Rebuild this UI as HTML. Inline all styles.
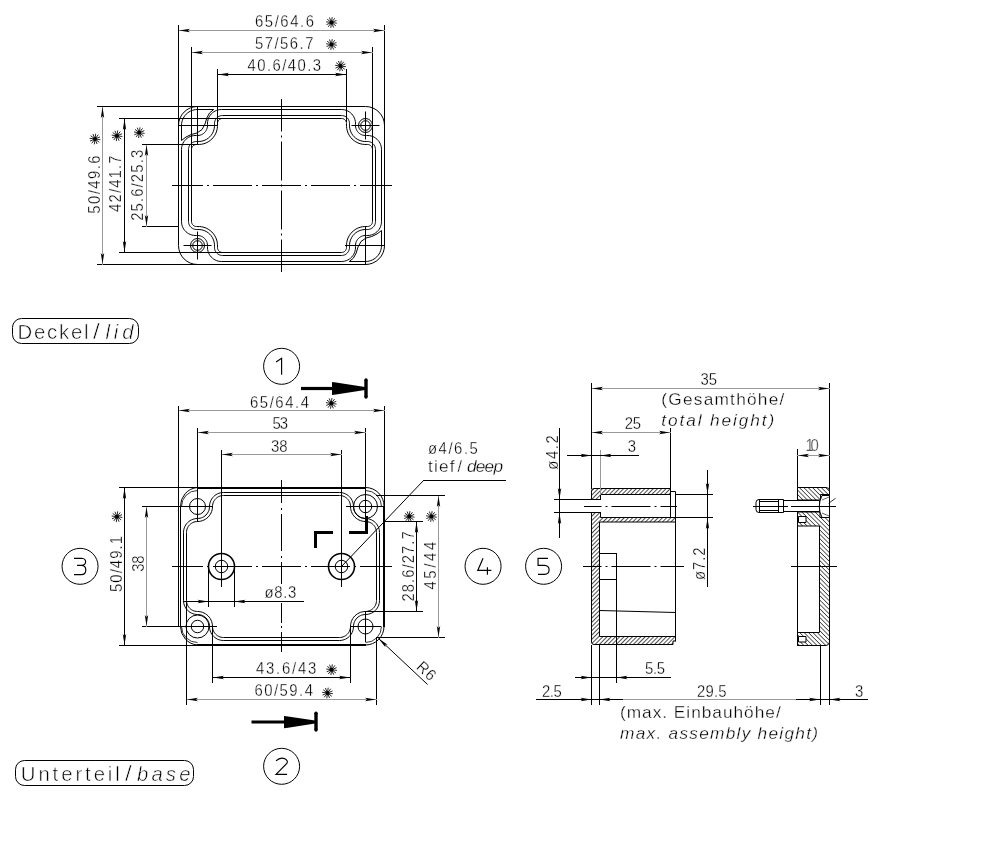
<!DOCTYPE html>
<html><head><meta charset="utf-8"><style>
html,body{margin:0;padding:0;background:#fff;}
svg{display:block;will-change:transform;font-family:"Liberation Sans",sans-serif;}
</style></head><body>
<svg width="984" height="868" viewBox="0 0 984 868">
<rect width="984" height="868" fill="#fff"/>
<path d="M197.5,106.5 H365.5 A19,19 0 0 1 384.5,125.5 V245.5 A19,19 0 0 1 365.5,264.5 H197.5 A19,19 0 0 1 178.5,245.5 V125.5 A19,19 0 0 1 197.5,106.5 Z" fill="none" stroke="#000" stroke-width="1"/>
<path d="M341.5,109.5 L343.15,109.6 L344.78,109.89 L346.36,110.37 L347.87,111.03 L349.3,111.87 L350.61,112.87 L351.8,114.02 L352.85,115.3 L353.74,116.7 L354.45,118.18 L354.99,119.75 L355.34,121.36 L355.49,123.01 L355.45,124.66 L355.51,125.91 L355.64,127.14 L355.91,128.35 L356.34,129.52 L356.91,130.62 L357.61,131.64 L358.43,132.57 L359.36,133.39 L360.38,134.09 L361.48,134.66 L362.65,135.09 L363.86,135.36 L365.09,135.49 L366.33,135.47 L367.99,135.51 L369.64,135.66 L371.25,136.01 L372.82,136.55 L374.3,137.26 L375.7,138.15 L376.98,139.2 L378.13,140.39 L379.13,141.7 L379.97,143.13 L380.63,144.64 L381.11,146.22 L381.4,147.85 L381.5,149.5 L381.5,221.5 L381.4,223.15 L381.11,224.78 L380.63,226.36 L379.97,227.87 L379.13,229.3 L378.13,230.61 L376.98,231.8 L375.7,232.85 L374.3,233.74 L372.82,234.45 L371.25,234.99 L369.64,235.34 L367.99,235.49 L366.33,235.53 L365.09,235.51 L363.86,235.64 L362.65,235.91 L361.48,236.34 L360.38,236.91 L359.36,237.61 L358.43,238.43 L357.61,239.36 L356.91,240.38 L356.34,241.48 L355.91,242.65 L355.64,243.86 L355.51,245.09 L355.45,246.34 L355.49,247.99 L355.34,249.64 L354.99,251.25 L354.45,252.82 L353.74,254.3 L352.85,255.7 L351.8,256.98 L350.61,258.13 L349.3,259.13 L347.87,259.97 L346.36,260.63 L344.78,261.11 L343.15,261.4 L341.5,261.5 L221.5,261.5 L219.85,261.4 L218.22,261.11 L216.64,260.63 L215.13,259.97 L213.7,259.13 L212.39,258.13 L211.2,256.98 L210.15,255.7 L209.26,254.3 L208.55,252.82 L208.01,251.25 L207.66,249.64 L207.51,247.99 L207.55,246.34 L207.49,245.09 L207.36,243.86 L207.09,242.65 L206.66,241.48 L206.09,240.38 L205.39,239.36 L204.57,238.43 L203.64,237.61 L202.62,236.91 L201.52,236.34 L200.35,235.91 L199.14,235.64 L197.91,235.51 L196.67,235.53 L195.01,235.49 L193.36,235.34 L191.75,234.99 L190.18,234.45 L188.7,233.74 L187.3,232.85 L186.02,231.8 L184.87,230.61 L183.87,229.3 L183.03,227.87 L182.37,226.36 L181.89,224.78 L181.6,223.15 L181.5,221.5 L181.5,149.5 L181.6,147.85 L181.89,146.22 L182.37,144.64 L183.03,143.13 L183.87,141.7 L184.87,140.39 L186.02,139.2 L187.3,138.15 L188.7,137.26 L190.18,136.55 L191.75,136.01 L193.36,135.66 L195.01,135.51 L196.67,135.47 L197.91,135.49 L199.14,135.36 L200.35,135.09 L201.52,134.66 L202.62,134.09 L203.64,133.39 L204.57,132.57 L205.39,131.64 L206.09,130.62 L206.66,129.52 L207.09,128.35 L207.36,127.14 L207.49,125.91 L207.55,124.66 L207.51,123.01 L207.66,121.36 L208.01,119.75 L208.55,118.18 L209.26,116.7 L210.15,115.3 L211.2,114.02 L212.39,112.87 L213.7,111.87 L215.13,111.03 L216.64,110.37 L218.22,109.89 L219.85,109.6 L221.5,109.5 Z" fill="none" stroke="#000" stroke-width="1"/>
<path d="M341.5,115.5 L342.44,115.56 L343.37,115.72 L344.28,116 L345.14,116.38 L345.96,116.86 L346.71,117.43 L347.39,118.08 L347.98,118.81 L348.49,119.61 L348.9,120.46 L349.21,121.36 L349.41,122.28 L349.5,123.22 L349.47,124.16 L349.51,126.15 L349.72,128.13 L350.16,130.06 L350.85,131.92 L351.75,133.69 L352.87,135.33 L354.19,136.81 L355.67,138.13 L357.31,139.25 L359.08,140.15 L360.94,140.84 L362.87,141.28 L364.85,141.49 L366.83,141.44 L367.78,141.5 L368.72,141.59 L369.64,141.79 L370.54,142.1 L371.39,142.51 L372.19,143.02 L372.92,143.61 L373.57,144.29 L374.14,145.04 L374.62,145.86 L375,146.72 L375.28,147.63 L375.44,148.56 L375.5,149.5 L375.5,221.5 L375.44,222.44 L375.28,223.37 L375,224.28 L374.62,225.14 L374.14,225.96 L373.57,226.71 L372.92,227.39 L372.19,227.98 L371.39,228.49 L370.54,228.9 L369.64,229.21 L368.72,229.41 L367.78,229.5 L366.83,229.56 L364.85,229.51 L362.87,229.72 L360.94,230.16 L359.08,230.85 L357.31,231.75 L355.67,232.87 L354.19,234.19 L352.87,235.67 L351.75,237.31 L350.85,239.08 L350.16,240.94 L349.72,242.87 L349.51,244.85 L349.47,246.84 L349.5,247.78 L349.41,248.72 L349.21,249.64 L348.9,250.54 L348.49,251.39 L347.98,252.19 L347.39,252.92 L346.71,253.57 L345.96,254.14 L345.14,254.62 L344.28,255 L343.37,255.28 L342.44,255.44 L341.5,255.5 L222.5,255.5 L221.56,255.44 L220.63,255.28 L219.72,255 L218.86,254.62 L218.04,254.14 L217.29,253.57 L216.61,252.92 L216.02,252.19 L215.51,251.39 L215.1,250.54 L214.79,249.64 L214.59,248.72 L214.5,247.78 L214.53,246.84 L214.49,244.85 L214.28,242.87 L213.84,240.94 L213.15,239.08 L212.25,237.31 L211.13,235.67 L209.81,234.19 L208.33,232.87 L206.69,231.75 L204.92,230.85 L203.06,230.16 L201.13,229.72 L199.15,229.51 L197.17,229.56 L196.22,229.5 L195.28,229.41 L194.36,229.21 L193.46,228.9 L192.61,228.49 L191.81,227.98 L191.08,227.39 L190.43,226.71 L189.86,225.96 L189.38,225.14 L189,224.28 L188.72,223.37 L188.56,222.44 L188.5,221.5 L188.5,149.5 L188.56,148.56 L188.72,147.63 L189,146.72 L189.38,145.86 L189.86,145.04 L190.43,144.29 L191.08,143.61 L191.81,143.02 L192.61,142.51 L193.46,142.1 L194.36,141.79 L195.28,141.59 L196.22,141.5 L197.17,141.44 L199.15,141.49 L201.13,141.28 L203.06,140.84 L204.92,140.15 L206.69,139.25 L208.33,138.13 L209.81,136.81 L211.13,135.33 L212.25,133.69 L213.15,131.92 L213.84,130.06 L214.28,128.13 L214.49,126.15 L214.53,124.16 L214.5,123.22 L214.59,122.28 L214.79,121.36 L215.1,120.46 L215.51,119.61 L216.02,118.81 L216.61,118.08 L217.29,117.43 L218.04,116.86 L218.86,116.38 L219.72,116 L220.63,115.72 L221.56,115.56 L222.5,115.5 Z" fill="none" stroke="#000" stroke-width="1"/>
<path d="M341.5,118.5 L342.09,118.53 L342.67,118.64 L343.24,118.81 L343.78,119.05 L344.28,119.35 L344.75,119.7 L345.18,120.11 L345.55,120.57 L345.87,121.07 L346.13,121.6 L346.32,122.16 L346.44,122.74 L346.5,123.33 L346.48,123.92 L346.52,126.28 L346.76,128.62 L347.29,130.92 L348.1,133.13 L349.18,135.22 L350.51,137.17 L352.06,138.94 L353.83,140.49 L355.78,141.82 L357.87,142.9 L360.08,143.71 L362.38,144.24 L364.72,144.48 L367.08,144.43 L367.67,144.5 L368.26,144.56 L368.84,144.68 L369.4,144.87 L369.93,145.13 L370.43,145.45 L370.89,145.82 L371.3,146.25 L371.65,146.72 L371.95,147.22 L372.19,147.76 L372.36,148.33 L372.47,148.91 L372.5,149.5 L372.5,221.5 L372.47,222.09 L372.36,222.67 L372.19,223.24 L371.95,223.78 L371.65,224.28 L371.3,224.75 L370.89,225.18 L370.43,225.55 L369.93,225.87 L369.4,226.13 L368.84,226.32 L368.26,226.44 L367.67,226.5 L367.08,226.57 L364.72,226.52 L362.38,226.76 L360.08,227.29 L357.87,228.1 L355.78,229.18 L353.83,230.51 L352.06,232.06 L350.51,233.83 L349.18,235.78 L348.1,237.87 L347.29,240.08 L346.76,242.38 L346.52,244.72 L346.48,247.08 L346.5,247.67 L346.44,248.26 L346.32,248.84 L346.13,249.4 L345.87,249.93 L345.55,250.43 L345.18,250.89 L344.75,251.3 L344.28,251.65 L343.78,251.95 L343.24,252.19 L342.67,252.36 L342.09,252.47 L341.5,252.5 L222.5,252.5 L221.91,252.47 L221.33,252.36 L220.76,252.19 L220.22,251.95 L219.72,251.65 L219.25,251.3 L218.82,250.89 L218.45,250.43 L218.13,249.93 L217.87,249.4 L217.68,248.84 L217.56,248.26 L217.5,247.67 L217.52,247.08 L217.48,244.72 L217.24,242.38 L216.71,240.08 L215.9,237.87 L214.82,235.78 L213.49,233.83 L211.94,232.06 L210.17,230.51 L208.22,229.18 L206.13,228.1 L203.92,227.29 L201.62,226.76 L199.28,226.52 L196.92,226.57 L196.33,226.5 L195.74,226.44 L195.16,226.32 L194.6,226.13 L194.07,225.87 L193.57,225.55 L193.11,225.18 L192.7,224.75 L192.35,224.28 L192.05,223.78 L191.81,223.24 L191.64,222.67 L191.53,222.09 L191.5,221.5 L191.5,149.5 L191.53,148.91 L191.64,148.33 L191.81,147.76 L192.05,147.22 L192.35,146.72 L192.7,146.25 L193.11,145.82 L193.57,145.45 L194.07,145.13 L194.6,144.87 L195.16,144.68 L195.74,144.56 L196.33,144.5 L196.92,144.43 L199.28,144.48 L201.62,144.24 L203.92,143.71 L206.13,142.9 L208.22,141.82 L210.17,140.49 L211.94,138.94 L213.49,137.17 L214.82,135.22 L215.9,133.13 L216.71,130.92 L217.24,128.62 L217.48,126.28 L217.52,123.92 L217.5,123.33 L217.56,122.74 L217.68,122.16 L217.87,121.6 L218.13,121.07 L218.45,120.57 L218.82,120.11 L219.25,119.7 L219.72,119.35 L220.22,119.05 L220.76,118.81 L221.33,118.64 L221.91,118.53 L222.5,118.5 Z" fill="none" stroke="#000" stroke-width="1"/>
<path d="M181.5,125.5 L181.6,123.71 L181.9,121.94 L182.4,120.22 L183.08,118.56 L183.95,116.99 L184.99,115.52 L186.19,114.19 L187.52,112.99 L188.99,111.95 L190.56,111.08 L192.22,110.4 L193.94,109.9 L195.71,109.6 L197.5,109.5 L213.7,109.5" fill="none" stroke="#000" stroke-width="1"/>
<path d="M213.7,109.5 L209.5,113 L206.8,118 L205,124 L202,129.5 L197,133 L191.3,134.5 L186,137 L181.5,140.5 L181.5,125.5" fill="none" stroke="#000" stroke-width="1"/>
<path d="M381.5,245.5 L381.4,247.29 L381.1,249.06 L380.6,250.78 L379.92,252.44 L379.05,254.01 L378.01,255.48 L376.81,256.81 L375.48,258.01 L374.01,259.05 L372.44,259.92 L370.78,260.6 L369.06,261.1 L367.29,261.4 L365.5,261.5 L349.3,261.5" fill="none" stroke="#000" stroke-width="1"/>
<path d="M349.3,261.5 L353.5,258 L356.2,253 L358,247 L361,241.5 L366,238 L371.7,236.5 L377,234 L381.5,230.5 L381.5,245.5" fill="none" stroke="#000" stroke-width="1"/>
<line x1="197.5" y1="106" x2="197.5" y2="145" stroke="#000" stroke-width="1"/>
<line x1="178" y1="125.5" x2="218" y2="125.5" stroke="#000" stroke-width="1"/>
<line x1="365.5" y1="226" x2="365.5" y2="265" stroke="#000" stroke-width="1"/>
<line x1="345" y1="245.5" x2="385" y2="245.5" stroke="#000" stroke-width="1"/>
<circle cx="365.5" cy="125.5" r="7" fill="none" stroke="#000" stroke-width="1"/>
<circle cx="365.5" cy="125.5" r="4.8" fill="none" stroke="#000" stroke-width="1"/>
<line x1="351.5" y1="125.5" x2="379.5" y2="125.5" stroke="#000" stroke-width="1"/>
<line x1="365.5" y1="111.5" x2="365.5" y2="139.5" stroke="#000" stroke-width="1"/>
<circle cx="197.5" cy="245.5" r="7" fill="none" stroke="#000" stroke-width="1"/>
<circle cx="197.5" cy="245.5" r="4.8" fill="none" stroke="#000" stroke-width="1"/>
<line x1="183.5" y1="245.5" x2="211.5" y2="245.5" stroke="#000" stroke-width="1"/>
<line x1="197.5" y1="231.5" x2="197.5" y2="259.5" stroke="#000" stroke-width="1"/>
<line x1="178.5" y1="25" x2="178.5" y2="126" stroke="#000" stroke-width="1"/>
<line x1="384.5" y1="25" x2="384.5" y2="126" stroke="#000" stroke-width="1"/>
<line x1="191.5" y1="47" x2="191.5" y2="221" stroke="#000" stroke-width="1"/>
<line x1="372.5" y1="47" x2="372.5" y2="221" stroke="#000" stroke-width="1"/>
<line x1="217.5" y1="69" x2="217.5" y2="126" stroke="#000" stroke-width="1"/>
<line x1="346.5" y1="69" x2="346.5" y2="122" stroke="#000" stroke-width="1"/>
<line x1="97" y1="106.5" x2="198" y2="106.5" stroke="#000" stroke-width="1"/>
<line x1="119" y1="118.5" x2="341" y2="118.5" stroke="#000" stroke-width="1"/>
<line x1="142" y1="144.5" x2="198" y2="144.5" stroke="#000" stroke-width="1"/>
<line x1="142" y1="226.5" x2="179" y2="226.5" stroke="#000" stroke-width="1"/>
<line x1="119" y1="252.5" x2="341" y2="252.5" stroke="#000" stroke-width="1"/>
<line x1="97" y1="264.5" x2="198" y2="264.5" stroke="#000" stroke-width="1"/>
<line x1="179" y1="30.5" x2="385" y2="30.5" stroke="#9a9a9a" stroke-width="1"/>
<polygon points="179,30.5 190,28.8 187.8,30.5 190,32.2" fill="#000"/>
<polygon points="384,30.5 373,32.2 375.2,30.5 373,28.8" fill="#000"/>
<line x1="192" y1="52.5" x2="373" y2="52.5" stroke="#9a9a9a" stroke-width="1"/>
<polygon points="192,52.5 203,50.8 200.8,52.5 203,54.2" fill="#000"/>
<polygon points="372,52.5 361,54.2 363.2,52.5 361,50.8" fill="#000"/>
<line x1="218" y1="74.5" x2="347" y2="74.5" stroke="#000" stroke-width="1"/>
<polygon points="218,74.5 229,72.8 226.8,74.5 229,76.2" fill="#000"/>
<polygon points="346,74.5 335,76.2 337.2,74.5 335,72.8" fill="#000"/>
<line x1="102.5" y1="107" x2="102.5" y2="265" stroke="#9a9a9a" stroke-width="1"/>
<polygon points="102.5,107 104.2,118 102.5,115.8 100.8,118" fill="#000"/>
<polygon points="102.5,264 100.8,253 102.5,255.2 104.2,253" fill="#000"/>
<line x1="124.5" y1="119" x2="124.5" y2="253" stroke="#000" stroke-width="1"/>
<polygon points="124.5,119 126.2,130 124.5,127.8 122.8,130" fill="#000"/>
<polygon points="124.5,252 122.8,241 124.5,243.2 126.2,241" fill="#000"/>
<line x1="146.5" y1="145" x2="146.5" y2="227" stroke="#9a9a9a" stroke-width="1"/>
<polygon points="146.5,145 148.2,156 146.5,153.8 144.8,156" fill="#000"/>
<polygon points="146.5,226 144.8,215 146.5,217.2 148.2,215" fill="#000"/>
<text transform="translate(255 27) scale(0.93 1)" x="0" y="0" font-size="16" textLength="63.44" lengthAdjust="spacing" stroke="#fff" stroke-width="0.3" fill="#000">65/64.6</text>
<text transform="translate(255 49) scale(0.93 1)" x="0" y="0" font-size="16" textLength="62.9" lengthAdjust="spacing" stroke="#fff" stroke-width="0.3" fill="#000">57/56.7</text>
<text transform="translate(247.5 71) scale(0.93 1)" x="0" y="0" font-size="16" textLength="79.03" lengthAdjust="spacing" stroke="#fff" stroke-width="0.3" fill="#000">40.6/40.3</text>
<line x1="331.5" y1="22.5" x2="336.85" y2="23.2" stroke="#000" stroke-width="0.85"/>
<line x1="331.5" y1="22.5" x2="335.79" y2="25.78" stroke="#000" stroke-width="0.85"/>
<line x1="331.5" y1="22.5" x2="333.57" y2="27.49" stroke="#000" stroke-width="0.85"/>
<line x1="331.5" y1="22.5" x2="330.8" y2="27.85" stroke="#000" stroke-width="0.85"/>
<line x1="331.5" y1="22.5" x2="328.22" y2="26.79" stroke="#000" stroke-width="0.85"/>
<line x1="331.5" y1="22.5" x2="326.51" y2="24.57" stroke="#000" stroke-width="0.85"/>
<line x1="331.5" y1="22.5" x2="326.15" y2="21.8" stroke="#000" stroke-width="0.85"/>
<line x1="331.5" y1="22.5" x2="327.21" y2="19.22" stroke="#000" stroke-width="0.85"/>
<line x1="331.5" y1="22.5" x2="329.43" y2="17.51" stroke="#000" stroke-width="0.85"/>
<line x1="331.5" y1="22.5" x2="332.2" y2="17.15" stroke="#000" stroke-width="0.85"/>
<line x1="331.5" y1="22.5" x2="334.78" y2="18.21" stroke="#000" stroke-width="0.85"/>
<line x1="331.5" y1="22.5" x2="336.49" y2="20.43" stroke="#000" stroke-width="0.85"/>
<circle cx="331.5" cy="22.5" r="1.9" fill="#000" stroke="#000" stroke-width="0"/>
<line x1="331.5" y1="44.5" x2="336.85" y2="45.2" stroke="#000" stroke-width="0.85"/>
<line x1="331.5" y1="44.5" x2="335.79" y2="47.78" stroke="#000" stroke-width="0.85"/>
<line x1="331.5" y1="44.5" x2="333.57" y2="49.49" stroke="#000" stroke-width="0.85"/>
<line x1="331.5" y1="44.5" x2="330.8" y2="49.85" stroke="#000" stroke-width="0.85"/>
<line x1="331.5" y1="44.5" x2="328.22" y2="48.79" stroke="#000" stroke-width="0.85"/>
<line x1="331.5" y1="44.5" x2="326.51" y2="46.57" stroke="#000" stroke-width="0.85"/>
<line x1="331.5" y1="44.5" x2="326.15" y2="43.8" stroke="#000" stroke-width="0.85"/>
<line x1="331.5" y1="44.5" x2="327.21" y2="41.22" stroke="#000" stroke-width="0.85"/>
<line x1="331.5" y1="44.5" x2="329.43" y2="39.51" stroke="#000" stroke-width="0.85"/>
<line x1="331.5" y1="44.5" x2="332.2" y2="39.15" stroke="#000" stroke-width="0.85"/>
<line x1="331.5" y1="44.5" x2="334.78" y2="40.21" stroke="#000" stroke-width="0.85"/>
<line x1="331.5" y1="44.5" x2="336.49" y2="42.43" stroke="#000" stroke-width="0.85"/>
<circle cx="331.5" cy="44.5" r="1.9" fill="#000" stroke="#000" stroke-width="0"/>
<line x1="340.5" y1="66" x2="345.85" y2="66.7" stroke="#000" stroke-width="0.85"/>
<line x1="340.5" y1="66" x2="344.79" y2="69.28" stroke="#000" stroke-width="0.85"/>
<line x1="340.5" y1="66" x2="342.57" y2="70.99" stroke="#000" stroke-width="0.85"/>
<line x1="340.5" y1="66" x2="339.8" y2="71.35" stroke="#000" stroke-width="0.85"/>
<line x1="340.5" y1="66" x2="337.22" y2="70.29" stroke="#000" stroke-width="0.85"/>
<line x1="340.5" y1="66" x2="335.51" y2="68.07" stroke="#000" stroke-width="0.85"/>
<line x1="340.5" y1="66" x2="335.15" y2="65.3" stroke="#000" stroke-width="0.85"/>
<line x1="340.5" y1="66" x2="336.21" y2="62.72" stroke="#000" stroke-width="0.85"/>
<line x1="340.5" y1="66" x2="338.43" y2="61.01" stroke="#000" stroke-width="0.85"/>
<line x1="340.5" y1="66" x2="341.2" y2="60.65" stroke="#000" stroke-width="0.85"/>
<line x1="340.5" y1="66" x2="343.78" y2="61.71" stroke="#000" stroke-width="0.85"/>
<line x1="340.5" y1="66" x2="345.49" y2="63.93" stroke="#000" stroke-width="0.85"/>
<circle cx="340.5" cy="66" r="1.9" fill="#000" stroke="#000" stroke-width="0"/>
<text transform="translate(99.6 213.8) rotate(-90) scale(0.93 1)" x="0" y="0" font-size="16" textLength="62.69" lengthAdjust="spacing" stroke="#fff" stroke-width="0.3" fill="#000">50/49.6</text>
<text transform="translate(121.2 211.9) rotate(-90) scale(0.93 1)" x="0" y="0" font-size="16" textLength="60.65" lengthAdjust="spacing" stroke="#fff" stroke-width="0.3" fill="#000">42/41.7</text>
<text transform="translate(143.4 220.8) rotate(-90) scale(0.93 1)" x="0" y="0" font-size="16" textLength="76.34" lengthAdjust="spacing" stroke="#fff" stroke-width="0.3" fill="#000">25.6/25.3</text>
<line x1="95" y1="139" x2="100.35" y2="139.7" stroke="#000" stroke-width="0.85"/>
<line x1="95" y1="139" x2="99.29" y2="142.28" stroke="#000" stroke-width="0.85"/>
<line x1="95" y1="139" x2="97.07" y2="143.99" stroke="#000" stroke-width="0.85"/>
<line x1="95" y1="139" x2="94.3" y2="144.35" stroke="#000" stroke-width="0.85"/>
<line x1="95" y1="139" x2="91.72" y2="143.29" stroke="#000" stroke-width="0.85"/>
<line x1="95" y1="139" x2="90.01" y2="141.07" stroke="#000" stroke-width="0.85"/>
<line x1="95" y1="139" x2="89.65" y2="138.3" stroke="#000" stroke-width="0.85"/>
<line x1="95" y1="139" x2="90.71" y2="135.72" stroke="#000" stroke-width="0.85"/>
<line x1="95" y1="139" x2="92.93" y2="134.01" stroke="#000" stroke-width="0.85"/>
<line x1="95" y1="139" x2="95.7" y2="133.65" stroke="#000" stroke-width="0.85"/>
<line x1="95" y1="139" x2="98.28" y2="134.71" stroke="#000" stroke-width="0.85"/>
<line x1="95" y1="139" x2="99.99" y2="136.93" stroke="#000" stroke-width="0.85"/>
<circle cx="95" cy="139" r="1.9" fill="#000" stroke="#000" stroke-width="0"/>
<line x1="117" y1="135.8" x2="122.35" y2="136.5" stroke="#000" stroke-width="0.85"/>
<line x1="117" y1="135.8" x2="121.29" y2="139.08" stroke="#000" stroke-width="0.85"/>
<line x1="117" y1="135.8" x2="119.07" y2="140.79" stroke="#000" stroke-width="0.85"/>
<line x1="117" y1="135.8" x2="116.3" y2="141.15" stroke="#000" stroke-width="0.85"/>
<line x1="117" y1="135.8" x2="113.72" y2="140.09" stroke="#000" stroke-width="0.85"/>
<line x1="117" y1="135.8" x2="112.01" y2="137.87" stroke="#000" stroke-width="0.85"/>
<line x1="117" y1="135.8" x2="111.65" y2="135.1" stroke="#000" stroke-width="0.85"/>
<line x1="117" y1="135.8" x2="112.71" y2="132.52" stroke="#000" stroke-width="0.85"/>
<line x1="117" y1="135.8" x2="114.93" y2="130.81" stroke="#000" stroke-width="0.85"/>
<line x1="117" y1="135.8" x2="117.7" y2="130.45" stroke="#000" stroke-width="0.85"/>
<line x1="117" y1="135.8" x2="120.28" y2="131.51" stroke="#000" stroke-width="0.85"/>
<line x1="117" y1="135.8" x2="121.99" y2="133.73" stroke="#000" stroke-width="0.85"/>
<circle cx="117" cy="135.8" r="1.9" fill="#000" stroke="#000" stroke-width="0"/>
<line x1="139.3" y1="132.7" x2="144.65" y2="133.4" stroke="#000" stroke-width="0.85"/>
<line x1="139.3" y1="132.7" x2="143.59" y2="135.98" stroke="#000" stroke-width="0.85"/>
<line x1="139.3" y1="132.7" x2="141.37" y2="137.69" stroke="#000" stroke-width="0.85"/>
<line x1="139.3" y1="132.7" x2="138.6" y2="138.05" stroke="#000" stroke-width="0.85"/>
<line x1="139.3" y1="132.7" x2="136.02" y2="136.99" stroke="#000" stroke-width="0.85"/>
<line x1="139.3" y1="132.7" x2="134.31" y2="134.77" stroke="#000" stroke-width="0.85"/>
<line x1="139.3" y1="132.7" x2="133.95" y2="132" stroke="#000" stroke-width="0.85"/>
<line x1="139.3" y1="132.7" x2="135.01" y2="129.42" stroke="#000" stroke-width="0.85"/>
<line x1="139.3" y1="132.7" x2="137.23" y2="127.71" stroke="#000" stroke-width="0.85"/>
<line x1="139.3" y1="132.7" x2="140" y2="127.35" stroke="#000" stroke-width="0.85"/>
<line x1="139.3" y1="132.7" x2="142.58" y2="128.41" stroke="#000" stroke-width="0.85"/>
<line x1="139.3" y1="132.7" x2="144.29" y2="130.63" stroke="#000" stroke-width="0.85"/>
<circle cx="139.3" cy="132.7" r="1.9" fill="#000" stroke="#000" stroke-width="0"/>
<line x1="281.5" y1="99" x2="281.5" y2="131.5" stroke="#000" stroke-width="1"/>
<line x1="281.5" y1="135.5" x2="281.5" y2="137.5" stroke="#000" stroke-width="1"/>
<line x1="281.5" y1="141.5" x2="281.5" y2="180.5" stroke="#000" stroke-width="1"/>
<line x1="281.5" y1="184.5" x2="281.5" y2="186.5" stroke="#000" stroke-width="1"/>
<line x1="281.5" y1="190.5" x2="281.5" y2="229.5" stroke="#000" stroke-width="1"/>
<line x1="281.5" y1="233.5" x2="281.5" y2="235.5" stroke="#000" stroke-width="1"/>
<line x1="281.5" y1="239.5" x2="281.5" y2="272" stroke="#000" stroke-width="1"/>
<line x1="172" y1="185.5" x2="203" y2="185.5" stroke="#000" stroke-width="1"/>
<line x1="207" y1="185.5" x2="209" y2="185.5" stroke="#000" stroke-width="1"/>
<line x1="213" y1="185.5" x2="252" y2="185.5" stroke="#000" stroke-width="1"/>
<line x1="256" y1="185.5" x2="258" y2="185.5" stroke="#000" stroke-width="1"/>
<line x1="262" y1="185.5" x2="301" y2="185.5" stroke="#000" stroke-width="1"/>
<line x1="305" y1="185.5" x2="307" y2="185.5" stroke="#000" stroke-width="1"/>
<line x1="311" y1="185.5" x2="350" y2="185.5" stroke="#000" stroke-width="1"/>
<line x1="354" y1="185.5" x2="356" y2="185.5" stroke="#000" stroke-width="1"/>
<line x1="360" y1="185.5" x2="392" y2="185.5" stroke="#000" stroke-width="1"/>
<path d="M197.5,487.5 H365.5 A18.5,18.5 0 0 1 384,506.5 V626.5 A18.5,18.5 0 0 1 365.5,645 H197.5 A18.5,18.5 0 0 1 180.5,626.5 V506.5 A18.5,18.5 0 0 1 197.5,487.5 Z" fill="none" stroke="#000" stroke-width="1"/>
<line x1="197" y1="488" x2="366" y2="488" stroke="#000" stroke-width="2"/>
<line x1="384" y1="506" x2="384" y2="627" stroke="#000" stroke-width="2"/>
<line x1="197" y1="645" x2="366" y2="645" stroke="#000" stroke-width="2"/>
<path d="M197.5,490.5 A16,16 0 0 0 181.5,506.5" fill="none" stroke="#000" stroke-width="0.8"/>
<path d="M365.5,490.5 A16,16 0 0 1 381.5,506.5" fill="none" stroke="#000" stroke-width="0.8"/>
<path d="M381.5,626.5 A16,16 0 0 1 365.5,642.5" fill="none" stroke="#000" stroke-width="0.8"/>
<path d="M181.5,626.5 A16,16 0 0 0 197.5,642.5" fill="none" stroke="#000" stroke-width="0.8"/>
<path d="M339.5,492.5 L341.07,492.59 L342.62,492.85 L344.12,493.29 L345.57,493.89 L346.95,494.65 L348.23,495.55 L349.4,496.6 L350.45,497.77 L351.35,499.05 L352.11,500.43 L352.71,501.88 L353.15,503.38 L353.41,504.93 L353.5,506.5 L353.58,507.84 L353.8,509.17 L354.17,510.46 L354.69,511.71 L355.34,512.88 L356.12,513.98 L357.01,514.99 L358.02,515.88 L359.12,516.66 L360.29,517.31 L361.54,517.83 L362.83,518.2 L364.16,518.42 L365.5,518.5 L367.07,518.59 L368.62,518.85 L370.12,519.29 L371.57,519.89 L372.95,520.65 L374.23,521.55 L375.4,522.6 L376.45,523.77 L377.35,525.05 L378.11,526.43 L378.71,527.88 L379.15,529.38 L379.41,530.93 L379.5,532.5 L379.5,600.5 L379.41,602.07 L379.15,603.62 L378.71,605.12 L378.11,606.57 L377.35,607.95 L376.45,609.23 L375.4,610.4 L374.23,611.45 L372.95,612.35 L371.57,613.11 L370.12,613.71 L368.62,614.15 L367.07,614.41 L365.5,614.5 L364.16,614.58 L362.83,614.8 L361.54,615.17 L360.29,615.69 L359.12,616.34 L358.02,617.12 L357.01,618.01 L356.12,619.02 L355.34,620.12 L354.69,621.29 L354.17,622.54 L353.8,623.83 L353.58,625.16 L353.5,626.5 L353.41,628.07 L353.15,629.62 L352.71,631.12 L352.11,632.57 L351.35,633.95 L350.45,635.23 L349.4,636.4 L348.23,637.45 L346.95,638.35 L345.57,639.11 L344.12,639.71 L342.62,640.15 L341.07,640.41 L339.5,640.5 L223.5,640.5 L221.93,640.41 L220.38,640.15 L218.88,639.71 L217.43,639.11 L216.05,638.35 L214.77,637.45 L213.6,636.4 L212.55,635.23 L211.65,633.95 L210.89,632.57 L210.29,631.12 L209.85,629.62 L209.59,628.07 L209.5,626.5 L209.42,625.16 L209.2,623.83 L208.83,622.54 L208.31,621.29 L207.66,620.12 L206.88,619.02 L205.99,618.01 L204.98,617.12 L203.88,616.34 L202.71,615.69 L201.46,615.17 L200.17,614.8 L198.84,614.58 L197.5,614.5 L195.93,614.41 L194.38,614.15 L192.88,613.71 L191.43,613.11 L190.05,612.35 L188.77,611.45 L187.6,610.4 L186.55,609.23 L185.65,607.95 L184.89,606.57 L184.29,605.12 L183.85,603.62 L183.59,602.07 L183.5,600.5 L183.5,532.5 L183.59,530.93 L183.85,529.38 L184.29,527.88 L184.89,526.43 L185.65,525.05 L186.55,523.77 L187.6,522.6 L188.77,521.55 L190.05,520.65 L191.43,519.89 L192.88,519.29 L194.38,518.85 L195.93,518.59 L197.5,518.5 L198.84,518.42 L200.17,518.2 L201.46,517.83 L202.71,517.31 L203.88,516.66 L204.98,515.88 L205.99,514.99 L206.88,513.98 L207.66,512.88 L208.31,511.71 L208.83,510.46 L209.2,509.17 L209.42,507.84 L209.5,506.5 L209.59,504.93 L209.85,503.38 L210.29,501.88 L210.89,500.43 L211.65,499.05 L212.55,497.77 L213.6,496.6 L214.77,495.55 L216.05,494.65 L217.43,493.89 L218.88,493.29 L220.38,492.85 L221.93,492.59 L223.5,492.5 Z" fill="none" stroke="#000" stroke-width="1"/>
<path d="M339.5,495.5 L340.73,495.57 L341.95,495.78 L343.13,496.12 L344.27,496.59 L345.35,497.19 L346.36,497.9 L347.28,498.72 L348.1,499.64 L348.81,500.65 L349.41,501.73 L349.88,502.87 L350.22,504.05 L350.43,505.27 L350.5,506.5 L350.59,508.18 L350.88,509.84 L351.34,511.45 L351.99,513.01 L352.8,514.48 L353.77,515.85 L354.89,517.11 L356.15,518.23 L357.52,519.2 L358.99,520.01 L360.55,520.66 L362.16,521.12 L363.82,521.41 L365.5,521.5 L366.73,521.57 L367.95,521.78 L369.13,522.12 L370.27,522.59 L371.35,523.19 L372.36,523.9 L373.28,524.72 L374.1,525.64 L374.81,526.65 L375.41,527.73 L375.88,528.87 L376.22,530.05 L376.43,531.27 L376.5,532.5 L376.5,600.5 L376.43,601.73 L376.22,602.95 L375.88,604.13 L375.41,605.27 L374.81,606.35 L374.1,607.36 L373.28,608.28 L372.36,609.1 L371.35,609.81 L370.27,610.41 L369.13,610.88 L367.95,611.22 L366.73,611.43 L365.5,611.5 L363.82,611.59 L362.16,611.88 L360.55,612.34 L358.99,612.99 L357.52,613.8 L356.15,614.77 L354.89,615.89 L353.77,617.15 L352.8,618.52 L351.99,619.99 L351.34,621.55 L350.88,623.16 L350.59,624.82 L350.5,626.5 L350.43,627.73 L350.22,628.95 L349.88,630.13 L349.41,631.27 L348.81,632.35 L348.1,633.36 L347.28,634.28 L346.36,635.1 L345.35,635.81 L344.27,636.41 L343.13,636.88 L341.95,637.22 L340.73,637.43 L339.5,637.5 L223.5,637.5 L222.27,637.43 L221.05,637.22 L219.87,636.88 L218.73,636.41 L217.65,635.81 L216.64,635.1 L215.72,634.28 L214.9,633.36 L214.19,632.35 L213.59,631.27 L213.12,630.13 L212.78,628.95 L212.57,627.73 L212.5,626.5 L212.41,624.82 L212.12,623.16 L211.66,621.55 L211.01,619.99 L210.2,618.52 L209.23,617.15 L208.11,615.89 L206.85,614.77 L205.48,613.8 L204.01,612.99 L202.45,612.34 L200.84,611.88 L199.18,611.59 L197.5,611.5 L196.27,611.43 L195.05,611.22 L193.87,610.88 L192.73,610.41 L191.65,609.81 L190.64,609.1 L189.72,608.28 L188.9,607.36 L188.19,606.35 L187.59,605.27 L187.12,604.13 L186.78,602.95 L186.57,601.73 L186.5,600.5 L186.5,532.5 L186.57,531.27 L186.78,530.05 L187.12,528.87 L187.59,527.73 L188.19,526.65 L188.9,525.64 L189.72,524.72 L190.64,523.9 L191.65,523.19 L192.73,522.59 L193.87,522.12 L195.05,521.78 L196.27,521.57 L197.5,521.5 L199.18,521.41 L200.84,521.12 L202.45,520.66 L204.01,520.01 L205.48,519.2 L206.85,518.23 L208.11,517.11 L209.23,515.85 L210.2,514.48 L211.01,513.01 L211.66,511.45 L212.12,509.84 L212.41,508.18 L212.5,506.5 L212.57,505.27 L212.78,504.05 L213.12,502.87 L213.59,501.73 L214.19,500.65 L214.9,499.64 L215.72,498.72 L216.64,497.9 L217.65,497.19 L218.73,496.59 L219.87,496.12 L221.05,495.78 L222.27,495.57 L223.5,495.5 Z" fill="none" stroke="#000" stroke-width="1"/>
<circle cx="197.5" cy="506.5" r="8" fill="none" stroke="#000" stroke-width="1"/>
<circle cx="365.5" cy="626.5" r="7.5" fill="none" stroke="#000" stroke-width="1"/>
<circle cx="365.5" cy="506.5" r="12" fill="none" stroke="#000" stroke-width="1"/>
<circle cx="365.5" cy="506.5" r="6.25" fill="none" stroke="#000" stroke-width="1"/>
<circle cx="197.5" cy="626.5" r="11.5" fill="none" stroke="#000" stroke-width="1"/>
<circle cx="197.5" cy="626.5" r="6.25" fill="none" stroke="#000" stroke-width="1"/>
<circle cx="221.5" cy="566.5" r="13" fill="none" stroke="#000" stroke-width="1.6"/>
<circle cx="221.5" cy="566.5" r="6.25" fill="none" stroke="#000" stroke-width="1"/>
<circle cx="341.5" cy="566.5" r="13" fill="none" stroke="#000" stroke-width="1.6"/>
<circle cx="341.5" cy="566.5" r="6.25" fill="none" stroke="#000" stroke-width="1"/>
<line x1="208.5" y1="566" x2="208.5" y2="607" stroke="#000" stroke-width="1"/>
<line x1="234.5" y1="566" x2="234.5" y2="607" stroke="#000" stroke-width="1"/>
<line x1="178.5" y1="406" x2="178.5" y2="627" stroke="#000" stroke-width="1"/>
<line x1="384.5" y1="406" x2="384.5" y2="507" stroke="#000" stroke-width="1"/>
<line x1="197.5" y1="428" x2="197.5" y2="522" stroke="#000" stroke-width="1"/>
<line x1="365.5" y1="428" x2="365.5" y2="517" stroke="#000" stroke-width="1"/>
<line x1="221.5" y1="450" x2="221.5" y2="587" stroke="#000" stroke-width="1"/>
<line x1="341.5" y1="450" x2="341.5" y2="587" stroke="#000" stroke-width="1"/>
<line x1="119" y1="487.5" x2="198" y2="487.5" stroke="#000" stroke-width="1"/>
<line x1="119" y1="645.5" x2="198" y2="645.5" stroke="#000" stroke-width="1"/>
<line x1="142" y1="506.5" x2="213" y2="506.5" stroke="#000" stroke-width="1"/>
<line x1="142" y1="626.5" x2="217" y2="626.5" stroke="#000" stroke-width="1"/>
<line x1="346" y1="506.5" x2="384" y2="506.5" stroke="#000" stroke-width="1"/>
<line x1="350" y1="626.5" x2="381" y2="626.5" stroke="#000" stroke-width="1"/>
<line x1="365.5" y1="611" x2="365.5" y2="642" stroke="#000" stroke-width="1"/>
<line x1="376" y1="495.5" x2="445" y2="495.5" stroke="#000" stroke-width="1"/>
<line x1="376" y1="637.5" x2="445" y2="637.5" stroke="#000" stroke-width="1"/>
<line x1="384" y1="521.5" x2="423" y2="521.5" stroke="#000" stroke-width="1"/>
<line x1="365" y1="611.5" x2="423" y2="611.5" stroke="#000" stroke-width="1"/>
<line x1="212.5" y1="626" x2="212.5" y2="683" stroke="#000" stroke-width="1"/>
<line x1="350.5" y1="626" x2="350.5" y2="683" stroke="#000" stroke-width="1"/>
<line x1="186.5" y1="601" x2="186.5" y2="705" stroke="#000" stroke-width="1"/>
<line x1="376.5" y1="637" x2="376.5" y2="705" stroke="#000" stroke-width="1"/>
<line x1="179" y1="410.5" x2="385" y2="410.5" stroke="#9a9a9a" stroke-width="1"/>
<polygon points="179,410.5 190,408.8 187.8,410.5 190,412.2" fill="#000"/>
<polygon points="384,410.5 373,412.2 375.2,410.5 373,408.8" fill="#000"/>
<line x1="198" y1="432.5" x2="366" y2="432.5" stroke="#9a9a9a" stroke-width="1"/>
<polygon points="198,432.5 209,430.8 206.8,432.5 209,434.2" fill="#000"/>
<polygon points="365,432.5 354,434.2 356.2,432.5 354,430.8" fill="#000"/>
<line x1="222" y1="454.5" x2="342" y2="454.5" stroke="#9a9a9a" stroke-width="1"/>
<polygon points="222,454.5 233,452.8 230.8,454.5 233,456.2" fill="#000"/>
<polygon points="341,454.5 330,456.2 332.2,454.5 330,452.8" fill="#000"/>
<text transform="translate(250 407.5) scale(0.93 1)" x="0" y="0" font-size="16" textLength="63.44" lengthAdjust="spacing" stroke="#fff" stroke-width="0.3" fill="#000">65/64.4</text>
<line x1="331.25" y1="403.4" x2="336.6" y2="404.1" stroke="#000" stroke-width="0.85"/>
<line x1="331.25" y1="403.4" x2="335.54" y2="406.68" stroke="#000" stroke-width="0.85"/>
<line x1="331.25" y1="403.4" x2="333.32" y2="408.39" stroke="#000" stroke-width="0.85"/>
<line x1="331.25" y1="403.4" x2="330.55" y2="408.75" stroke="#000" stroke-width="0.85"/>
<line x1="331.25" y1="403.4" x2="327.97" y2="407.69" stroke="#000" stroke-width="0.85"/>
<line x1="331.25" y1="403.4" x2="326.26" y2="405.47" stroke="#000" stroke-width="0.85"/>
<line x1="331.25" y1="403.4" x2="325.9" y2="402.7" stroke="#000" stroke-width="0.85"/>
<line x1="331.25" y1="403.4" x2="326.96" y2="400.12" stroke="#000" stroke-width="0.85"/>
<line x1="331.25" y1="403.4" x2="329.18" y2="398.41" stroke="#000" stroke-width="0.85"/>
<line x1="331.25" y1="403.4" x2="331.95" y2="398.05" stroke="#000" stroke-width="0.85"/>
<line x1="331.25" y1="403.4" x2="334.53" y2="399.11" stroke="#000" stroke-width="0.85"/>
<line x1="331.25" y1="403.4" x2="336.24" y2="401.33" stroke="#000" stroke-width="0.85"/>
<circle cx="331.25" cy="403.4" r="1.9" fill="#000" stroke="#000" stroke-width="0"/>
<text transform="translate(272.5 429.4) scale(0.93 1)" x="0" y="0" font-size="16" textLength="16.67" lengthAdjust="spacing" stroke="#fff" stroke-width="0.3" fill="#000">53</text>
<text transform="translate(271 452) scale(0.93 1)" x="0" y="0" font-size="16" textLength="17.74" lengthAdjust="spacing" stroke="#fff" stroke-width="0.3" fill="#000">38</text>
<line x1="124.5" y1="488" x2="124.5" y2="646" stroke="#000" stroke-width="1"/>
<polygon points="124.5,488 126.2,499 124.5,496.8 122.8,499" fill="#000"/>
<polygon points="124.5,645 122.8,634 124.5,636.2 126.2,634" fill="#000"/>
<line x1="146.5" y1="507" x2="146.5" y2="627" stroke="#9a9a9a" stroke-width="1"/>
<polygon points="146.5,507 148.2,518 146.5,515.8 144.8,518" fill="#000"/>
<polygon points="146.5,626 144.8,615 146.5,617.2 148.2,615" fill="#000"/>
<text transform="translate(121.9 592) rotate(-90) scale(0.93 1)" x="0" y="0" font-size="16" textLength="60.22" lengthAdjust="spacing" stroke="#fff" stroke-width="0.3" fill="#000">50/49.1</text>
<line x1="117" y1="516.7" x2="122.35" y2="517.4" stroke="#000" stroke-width="0.85"/>
<line x1="117" y1="516.7" x2="121.29" y2="519.98" stroke="#000" stroke-width="0.85"/>
<line x1="117" y1="516.7" x2="119.07" y2="521.69" stroke="#000" stroke-width="0.85"/>
<line x1="117" y1="516.7" x2="116.3" y2="522.05" stroke="#000" stroke-width="0.85"/>
<line x1="117" y1="516.7" x2="113.72" y2="520.99" stroke="#000" stroke-width="0.85"/>
<line x1="117" y1="516.7" x2="112.01" y2="518.77" stroke="#000" stroke-width="0.85"/>
<line x1="117" y1="516.7" x2="111.65" y2="516" stroke="#000" stroke-width="0.85"/>
<line x1="117" y1="516.7" x2="112.71" y2="513.42" stroke="#000" stroke-width="0.85"/>
<line x1="117" y1="516.7" x2="114.93" y2="511.71" stroke="#000" stroke-width="0.85"/>
<line x1="117" y1="516.7" x2="117.7" y2="511.35" stroke="#000" stroke-width="0.85"/>
<line x1="117" y1="516.7" x2="120.28" y2="512.41" stroke="#000" stroke-width="0.85"/>
<line x1="117" y1="516.7" x2="121.99" y2="514.63" stroke="#000" stroke-width="0.85"/>
<circle cx="117" cy="516.7" r="1.9" fill="#000" stroke="#000" stroke-width="0"/>
<text transform="translate(143.6 571.8) rotate(-90) scale(0.93 1)" x="0" y="0" font-size="16" textLength="17.63" lengthAdjust="spacing" stroke="#fff" stroke-width="0.3" fill="#000">38</text>
<line x1="416.5" y1="522" x2="416.5" y2="612" stroke="#000" stroke-width="1"/>
<polygon points="416.5,522 418.2,533 416.5,530.8 414.8,533" fill="#000"/>
<polygon points="416.5,611 414.8,600 416.5,602.2 418.2,600" fill="#000"/>
<line x1="438.5" y1="496" x2="438.5" y2="638" stroke="#9a9a9a" stroke-width="1"/>
<polygon points="438.5,496 440.2,507 438.5,504.8 436.8,507" fill="#000"/>
<polygon points="438.5,637 436.8,626 438.5,628.2 440.2,626" fill="#000"/>
<text transform="translate(413.7 601.6) rotate(-90) scale(0.93 1)" x="0" y="0" font-size="16" textLength="75.7" lengthAdjust="spacing" stroke="#fff" stroke-width="0.3" fill="#000">28.6/27.7</text>
<line x1="409.2" y1="516.5" x2="414.55" y2="517.2" stroke="#000" stroke-width="0.85"/>
<line x1="409.2" y1="516.5" x2="413.49" y2="519.78" stroke="#000" stroke-width="0.85"/>
<line x1="409.2" y1="516.5" x2="411.27" y2="521.49" stroke="#000" stroke-width="0.85"/>
<line x1="409.2" y1="516.5" x2="408.5" y2="521.85" stroke="#000" stroke-width="0.85"/>
<line x1="409.2" y1="516.5" x2="405.92" y2="520.79" stroke="#000" stroke-width="0.85"/>
<line x1="409.2" y1="516.5" x2="404.21" y2="518.57" stroke="#000" stroke-width="0.85"/>
<line x1="409.2" y1="516.5" x2="403.85" y2="515.8" stroke="#000" stroke-width="0.85"/>
<line x1="409.2" y1="516.5" x2="404.91" y2="513.22" stroke="#000" stroke-width="0.85"/>
<line x1="409.2" y1="516.5" x2="407.13" y2="511.51" stroke="#000" stroke-width="0.85"/>
<line x1="409.2" y1="516.5" x2="409.9" y2="511.15" stroke="#000" stroke-width="0.85"/>
<line x1="409.2" y1="516.5" x2="412.48" y2="512.21" stroke="#000" stroke-width="0.85"/>
<line x1="409.2" y1="516.5" x2="414.19" y2="514.43" stroke="#000" stroke-width="0.85"/>
<circle cx="409.2" cy="516.5" r="1.9" fill="#000" stroke="#000" stroke-width="0"/>
<text transform="translate(436 589.6) rotate(-90) scale(0.93 1)" x="0" y="0" font-size="16" textLength="51.51" lengthAdjust="spacing" stroke="#fff" stroke-width="0.3" fill="#000">45/44</text>
<line x1="431.4" y1="516.5" x2="436.75" y2="517.2" stroke="#000" stroke-width="0.85"/>
<line x1="431.4" y1="516.5" x2="435.69" y2="519.78" stroke="#000" stroke-width="0.85"/>
<line x1="431.4" y1="516.5" x2="433.47" y2="521.49" stroke="#000" stroke-width="0.85"/>
<line x1="431.4" y1="516.5" x2="430.7" y2="521.85" stroke="#000" stroke-width="0.85"/>
<line x1="431.4" y1="516.5" x2="428.12" y2="520.79" stroke="#000" stroke-width="0.85"/>
<line x1="431.4" y1="516.5" x2="426.41" y2="518.57" stroke="#000" stroke-width="0.85"/>
<line x1="431.4" y1="516.5" x2="426.05" y2="515.8" stroke="#000" stroke-width="0.85"/>
<line x1="431.4" y1="516.5" x2="427.11" y2="513.22" stroke="#000" stroke-width="0.85"/>
<line x1="431.4" y1="516.5" x2="429.33" y2="511.51" stroke="#000" stroke-width="0.85"/>
<line x1="431.4" y1="516.5" x2="432.1" y2="511.15" stroke="#000" stroke-width="0.85"/>
<line x1="431.4" y1="516.5" x2="434.68" y2="512.21" stroke="#000" stroke-width="0.85"/>
<line x1="431.4" y1="516.5" x2="436.39" y2="514.43" stroke="#000" stroke-width="0.85"/>
<circle cx="431.4" cy="516.5" r="1.9" fill="#000" stroke="#000" stroke-width="0"/>
<line x1="213" y1="677.5" x2="351" y2="677.5" stroke="#000" stroke-width="1"/>
<polygon points="213,677.5 224,675.8 221.8,677.5 224,679.2" fill="#000"/>
<polygon points="350,677.5 339,679.2 341.2,677.5 339,675.8" fill="#000"/>
<line x1="187" y1="699.5" x2="377" y2="699.5" stroke="#9a9a9a" stroke-width="1"/>
<polygon points="187,699.5 198,697.8 195.8,699.5 198,701.2" fill="#000"/>
<polygon points="376,699.5 365,701.2 367.2,699.5 365,697.8" fill="#000"/>
<text transform="translate(256 674) scale(0.93 1)" x="0" y="0" font-size="16" textLength="64.95" lengthAdjust="spacing" stroke="#fff" stroke-width="0.3" fill="#000">43.6/43</text>
<line x1="331.6" y1="669.7" x2="336.95" y2="670.4" stroke="#000" stroke-width="0.85"/>
<line x1="331.6" y1="669.7" x2="335.89" y2="672.98" stroke="#000" stroke-width="0.85"/>
<line x1="331.6" y1="669.7" x2="333.67" y2="674.69" stroke="#000" stroke-width="0.85"/>
<line x1="331.6" y1="669.7" x2="330.9" y2="675.05" stroke="#000" stroke-width="0.85"/>
<line x1="331.6" y1="669.7" x2="328.32" y2="673.99" stroke="#000" stroke-width="0.85"/>
<line x1="331.6" y1="669.7" x2="326.61" y2="671.77" stroke="#000" stroke-width="0.85"/>
<line x1="331.6" y1="669.7" x2="326.25" y2="669" stroke="#000" stroke-width="0.85"/>
<line x1="331.6" y1="669.7" x2="327.31" y2="666.42" stroke="#000" stroke-width="0.85"/>
<line x1="331.6" y1="669.7" x2="329.53" y2="664.71" stroke="#000" stroke-width="0.85"/>
<line x1="331.6" y1="669.7" x2="332.3" y2="664.35" stroke="#000" stroke-width="0.85"/>
<line x1="331.6" y1="669.7" x2="334.88" y2="665.41" stroke="#000" stroke-width="0.85"/>
<line x1="331.6" y1="669.7" x2="336.59" y2="667.63" stroke="#000" stroke-width="0.85"/>
<circle cx="331.6" cy="669.7" r="1.9" fill="#000" stroke="#000" stroke-width="0"/>
<text transform="translate(254.4 696.3) scale(0.93 1)" x="0" y="0" font-size="16" textLength="63.01" lengthAdjust="spacing" stroke="#fff" stroke-width="0.3" fill="#000">60/59.4</text>
<line x1="327.5" y1="693" x2="332.85" y2="693.7" stroke="#000" stroke-width="0.85"/>
<line x1="327.5" y1="693" x2="331.79" y2="696.28" stroke="#000" stroke-width="0.85"/>
<line x1="327.5" y1="693" x2="329.57" y2="697.99" stroke="#000" stroke-width="0.85"/>
<line x1="327.5" y1="693" x2="326.8" y2="698.35" stroke="#000" stroke-width="0.85"/>
<line x1="327.5" y1="693" x2="324.22" y2="697.29" stroke="#000" stroke-width="0.85"/>
<line x1="327.5" y1="693" x2="322.51" y2="695.07" stroke="#000" stroke-width="0.85"/>
<line x1="327.5" y1="693" x2="322.15" y2="692.3" stroke="#000" stroke-width="0.85"/>
<line x1="327.5" y1="693" x2="323.21" y2="689.72" stroke="#000" stroke-width="0.85"/>
<line x1="327.5" y1="693" x2="325.43" y2="688.01" stroke="#000" stroke-width="0.85"/>
<line x1="327.5" y1="693" x2="328.2" y2="687.65" stroke="#000" stroke-width="0.85"/>
<line x1="327.5" y1="693" x2="330.78" y2="688.71" stroke="#000" stroke-width="0.85"/>
<line x1="327.5" y1="693" x2="332.49" y2="690.93" stroke="#000" stroke-width="0.85"/>
<circle cx="327.5" cy="693" r="1.9" fill="#000" stroke="#000" stroke-width="0"/>
<line x1="183" y1="601.5" x2="304" y2="601.5" stroke="#000" stroke-width="1"/>
<polygon points="208.5,601.5 197.5,603.2 199.7,601.5 197.5,599.8" fill="#000"/>
<polygon points="234.5,601.5 245.5,599.8 243.3,601.5 245.5,603.2" fill="#000"/>
<text transform="translate(264.6 598) scale(0.93 1)" x="0" y="0" font-size="16" textLength="34.09" lengthAdjust="spacing" stroke="#fff" stroke-width="0.3" fill="#000">ø8.3</text>
<line x1="281.5" y1="480" x2="281.5" y2="503" stroke="#000" stroke-width="1"/>
<line x1="281.5" y1="508" x2="281.5" y2="510" stroke="#000" stroke-width="1"/>
<line x1="281.5" y1="514" x2="281.5" y2="551" stroke="#000" stroke-width="1"/>
<line x1="281.5" y1="556" x2="281.5" y2="558" stroke="#000" stroke-width="1"/>
<line x1="281.5" y1="562" x2="281.5" y2="584" stroke="#000" stroke-width="1"/>
<line x1="281.5" y1="603" x2="281.5" y2="623" stroke="#000" stroke-width="1"/>
<line x1="281.5" y1="626" x2="281.5" y2="628" stroke="#000" stroke-width="1"/>
<line x1="281.5" y1="632" x2="281.5" y2="652" stroke="#000" stroke-width="1"/>
<line x1="172" y1="566.5" x2="203" y2="566.5" stroke="#000" stroke-width="1"/>
<line x1="207" y1="566.5" x2="209" y2="566.5" stroke="#000" stroke-width="1"/>
<line x1="213" y1="566.5" x2="252" y2="566.5" stroke="#000" stroke-width="1"/>
<line x1="256" y1="566.5" x2="258" y2="566.5" stroke="#000" stroke-width="1"/>
<line x1="262" y1="566.5" x2="301" y2="566.5" stroke="#000" stroke-width="1"/>
<line x1="305" y1="566.5" x2="307" y2="566.5" stroke="#000" stroke-width="1"/>
<line x1="311" y1="566.5" x2="350" y2="566.5" stroke="#000" stroke-width="1"/>
<line x1="354" y1="566.5" x2="356" y2="566.5" stroke="#000" stroke-width="1"/>
<line x1="360" y1="566.5" x2="392" y2="566.5" stroke="#000" stroke-width="1"/>
<path d="M315.5,548 V532.5 H333" fill="none" stroke="#000" stroke-width="3"/>
<path d="M349,532.5 H366.5 V516" fill="none" stroke="#000" stroke-width="3"/>
<line x1="341.5" y1="566.5" x2="423.5" y2="480.5" stroke="#000" stroke-width="1"/>
<line x1="423" y1="480.5" x2="506" y2="480.5" stroke="#000" stroke-width="1"/>
<text transform="translate(427.9 454) scale(0.93 1)" x="0" y="0" font-size="16" textLength="53.76" lengthAdjust="spacing" stroke="#fff" stroke-width="0.3" fill="#000">ø4/6.5</text>
<text transform="translate(428 472) scale(1.08 1)" x="0" y="0" font-size="16" textLength="24.54" lengthAdjust="spacing" stroke="#fff" stroke-width="0.3" fill="#000">tief</text>
<text transform="translate(457.5 472) scale(1 1)" x="0" y="0" font-size="16" textLength="6" lengthAdjust="spacing" stroke="#fff" stroke-width="0.3" fill="#000">/</text>
<text transform="translate(467 472) scale(1.08 1)" x="0" y="0" font-size="16" textLength="33.33" lengthAdjust="spacing" font-style="italic" stroke="#fff" stroke-width="0.3" fill="#000">deep</text>
<line x1="378.5" y1="638.5" x2="427.6" y2="684.5" stroke="#000" stroke-width="1"/>
<polygon points="378.5,638.5 387.69,644.78 384.92,644.52 385.37,647.26" fill="#000"/>
<text transform="translate(415.5 668) rotate(43) scale(0.93 1)" x="0" y="0" font-size="16" textLength="21.51" lengthAdjust="spacing" stroke="#fff" stroke-width="0.3" fill="#000">R6</text>
<circle cx="281.6" cy="366.3" r="18" fill="none" stroke="#000" stroke-width="1"/>
<path d="M276.05,361.9 L281.6,358.2 V374.8" fill="none" stroke="#000" stroke-width="1.15"/>
<circle cx="281.6" cy="766.3" r="18" fill="none" stroke="#000" stroke-width="1"/>
<path d="M276.05,760.9 Q280,757 284.5,758.6 Q288.5,760.5 286.8,763.5 L276.05,774.35 H287.1" fill="none" stroke="#000" stroke-width="1.15"/>
<circle cx="80.05" cy="566.3" r="18" fill="none" stroke="#000" stroke-width="1"/>
<path d="M74.05,558.3 H81.5 Q85.6,558.6 85.6,561.8 Q85.6,565.35 81.5,565.35 H77.05 M81.5,565.35 Q85.8,565.6 85.8,569.9 Q85.8,574.6 81.2,574.6 H74.05" fill="none" stroke="#000" stroke-width="1.15"/>
<circle cx="483.05" cy="566.3" r="18" fill="none" stroke="#000" stroke-width="1"/>
<path d="M483.05,558.2 L477.75,570.4 H491.35 M487.4,567.2 V574.8" fill="none" stroke="#000" stroke-width="1.15"/>
<circle cx="543.6" cy="566.3" r="18" fill="none" stroke="#000" stroke-width="1"/>
<path d="M547.96,558.35 H538.05 V565.35 H544.5 Q549.1,565.6 549.1,569.8 Q549.1,574.3 544.5,574.3 H538.05" fill="none" stroke="#000" stroke-width="1.15"/>
<line x1="301" y1="388.5" x2="333" y2="388.5" stroke="#000" stroke-width="3.2"/>
<polygon points="332,382 336,382.5 365,387 365,390 336,394.5 332,395" fill="#000"/>
<line x1="366" y1="380" x2="366" y2="397" stroke="#000" stroke-width="3.4"/>
<circle cx="366" cy="380" r="1.7" fill="#000" stroke="#000" stroke-width="0"/>
<circle cx="366" cy="397" r="1.7" fill="#000" stroke="#000" stroke-width="0"/>
<line x1="251.5" y1="722" x2="285" y2="722" stroke="#000" stroke-width="3.2"/>
<polygon points="284,716 288,716.5 315,720.5 315,723.5 288,727.8 284,728.3" fill="#000"/>
<line x1="316" y1="713.2" x2="316" y2="730" stroke="#000" stroke-width="3.4"/>
<circle cx="316" cy="713.2" r="1.7" fill="#000" stroke="#000" stroke-width="0"/>
<circle cx="316" cy="730" r="1.7" fill="#000" stroke="#000" stroke-width="0"/>
<defs><pattern id="h1" patternUnits="userSpaceOnUse" width="3" height="3" patternTransform="rotate(45)"><rect width="3" height="3" fill="#fff"/><line x1="0" y1="0" x2="0" y2="3" stroke="#000" stroke-width="1.4"/></pattern><pattern id="h2" patternUnits="userSpaceOnUse" width="3.1" height="3.1" patternTransform="rotate(-45)"><rect width="3.1" height="3.1" fill="#fff"/><line x1="0" y1="0" x2="0" y2="3.1" stroke="#000" stroke-width="1.2"/></pattern></defs>
<path d="M591.5,491 Q591.5,488.5 594,488.5 H670.5 V494.5 H600.5 V499.5 H591.5 Z" fill="url(#h1)" stroke="#000" stroke-width="1"/>
<path d="M591.5,512.5 H600.5 V517.5 H675.5 V522 H599.5 V636.5 H675.5 V641 H673 V644.5 H594 Q591.5,644.5 591.5,642 Z" fill="url(#h1)" stroke="#000" stroke-width="1"/>
<line x1="591.5" y1="383" x2="591.5" y2="489" stroke="#000" stroke-width="1"/>
<line x1="591.5" y1="645" x2="591.5" y2="705" stroke="#000" stroke-width="1"/>
<line x1="600.5" y1="450" x2="600.5" y2="495" stroke="#9a9a9a" stroke-width="1"/>
<line x1="599.5" y1="645" x2="599.5" y2="705" stroke="#000" stroke-width="1"/>
<line x1="670.5" y1="428" x2="670.5" y2="518" stroke="#000" stroke-width="1"/>
<path d="M670.5,491.5 H675.5 V641.5" fill="none" stroke="#000" stroke-width="1"/>
<line x1="599" y1="553.5" x2="617" y2="553.5" stroke="#000" stroke-width="1"/>
<line x1="599" y1="579.5" x2="617" y2="579.5" stroke="#000" stroke-width="1"/>
<line x1="616.5" y1="553" x2="616.5" y2="683" stroke="#000" stroke-width="1"/>
<line x1="599.5" y1="610.5" x2="675.5" y2="612.5" stroke="#000" stroke-width="1"/>
<line x1="584" y1="506.5" x2="601.5" y2="506.5" stroke="#000" stroke-width="1"/>
<line x1="605.5" y1="506.5" x2="607.5" y2="506.5" stroke="#000" stroke-width="1"/>
<line x1="611.5" y1="506.5" x2="650.5" y2="506.5" stroke="#000" stroke-width="1"/>
<line x1="654.5" y1="506.5" x2="656.5" y2="506.5" stroke="#000" stroke-width="1"/>
<line x1="660.5" y1="506.5" x2="677" y2="506.5" stroke="#000" stroke-width="1"/>
<line x1="583" y1="566.5" x2="601.5" y2="566.5" stroke="#000" stroke-width="1"/>
<line x1="605.5" y1="566.5" x2="607.5" y2="566.5" stroke="#000" stroke-width="1"/>
<line x1="611.5" y1="566.5" x2="650.5" y2="566.5" stroke="#000" stroke-width="1"/>
<line x1="654.5" y1="566.5" x2="656.5" y2="566.5" stroke="#000" stroke-width="1"/>
<line x1="660.5" y1="566.5" x2="684" y2="566.5" stroke="#000" stroke-width="1"/>
<line x1="829.5" y1="383" x2="829.5" y2="488" stroke="#000" stroke-width="1"/>
<line x1="592" y1="388.5" x2="830" y2="388.5" stroke="#9a9a9a" stroke-width="1"/>
<polygon points="592,388.5 603,386.8 600.8,388.5 603,390.2" fill="#000"/>
<polygon points="829,388.5 818,390.2 820.2,388.5 818,386.8" fill="#000"/>
<text transform="translate(700.5 384.8) scale(0.93 1)" x="0" y="0" font-size="16" textLength="17.74" lengthAdjust="spacing" stroke="#fff" stroke-width="0.3" fill="#000">35</text>
<text transform="translate(661.3 404.7) scale(1.08 1)" x="0" y="0" font-size="16" textLength="113.89" lengthAdjust="spacing" stroke="#fff" stroke-width="0.3" fill="#000">(Gesamthöhe/</text>
<text transform="translate(661.3 426) scale(1.08 1)" x="0" y="0" font-size="16" textLength="104.63" lengthAdjust="spacing" font-style="italic" stroke="#fff" stroke-width="0.3" fill="#000">total height)</text>
<line x1="592" y1="432.5" x2="671" y2="432.5" stroke="#9a9a9a" stroke-width="1"/>
<polygon points="592,432.5 603,430.8 600.8,432.5 603,434.2" fill="#000"/>
<polygon points="670,432.5 659,434.2 661.2,432.5 659,430.8" fill="#000"/>
<text transform="translate(624.7 429) scale(0.93 1)" x="0" y="0" font-size="16" textLength="17.53" lengthAdjust="spacing" stroke="#fff" stroke-width="0.3" fill="#000">25</text>
<line x1="567" y1="455.5" x2="639" y2="455.5" stroke="#000" stroke-width="1"/>
<polygon points="591.5,455.5 580.5,457.2 582.7,455.5 580.5,453.8" fill="#000"/>
<polygon points="600.5,455.5 611.5,453.8 609.3,455.5 611.5,457.2" fill="#000"/>
<text transform="translate(627.7 451.9) scale(0.93 1)" x="0" y="0" font-size="16" textLength="7.63" lengthAdjust="spacing" stroke="#fff" stroke-width="0.3" fill="#000">3</text>
<line x1="554" y1="499.5" x2="601" y2="499.5" stroke="#000" stroke-width="1"/>
<line x1="554" y1="512.5" x2="601" y2="512.5" stroke="#000" stroke-width="1"/>
<line x1="559.5" y1="428" x2="559.5" y2="538" stroke="#000" stroke-width="1"/>
<polygon points="559.5,499 557.8,488 559.5,490.2 561.2,488" fill="#000"/>
<polygon points="559.5,513 561.2,524 559.5,521.8 557.8,524" fill="#000"/>
<text transform="translate(557.6 469.75) rotate(-90) scale(0.93 1)" x="0" y="0" font-size="16" textLength="37.1" lengthAdjust="spacing" stroke="#fff" stroke-width="0.3" fill="#000">ø4.2</text>
<line x1="675" y1="494.5" x2="713" y2="494.5" stroke="#000" stroke-width="1"/>
<line x1="675" y1="517.5" x2="713" y2="517.5" stroke="#000" stroke-width="1"/>
<line x1="707.5" y1="470" x2="707.5" y2="587" stroke="#000" stroke-width="1"/>
<polygon points="707.5,494 705.8,483 707.5,485.2 709.2,483" fill="#000"/>
<polygon points="707.5,518 709.2,529 707.5,526.8 705.8,529" fill="#000"/>
<text transform="translate(705 580) rotate(-90) scale(0.93 1)" x="0" y="0" font-size="16" textLength="34.95" lengthAdjust="spacing" stroke="#fff" stroke-width="0.3" fill="#000">ø7.2</text>
<line x1="575" y1="677.5" x2="671" y2="677.5" stroke="#000" stroke-width="1"/>
<polygon points="591.5,677.5 580.5,679.2 582.7,677.5 580.5,675.8" fill="#000"/>
<polygon points="616.5,677.5 627.5,675.8 625.3,677.5 627.5,679.2" fill="#000"/>
<text transform="translate(645 674.25) scale(0.93 1)" x="0" y="0" font-size="16" textLength="21.51" lengthAdjust="spacing" stroke="#fff" stroke-width="0.3" fill="#000">5.5</text>
<line x1="536" y1="699.5" x2="623" y2="699.5" stroke="#000" stroke-width="1"/>
<line x1="623" y1="699.5" x2="796" y2="699.5" stroke="#9a9a9a" stroke-width="1"/>
<line x1="796" y1="699.5" x2="868" y2="699.5" stroke="#000" stroke-width="1"/>
<polygon points="591.5,699.5 580.5,701.2 582.7,699.5 580.5,697.8" fill="#000"/>
<polygon points="599.5,699.5 610.5,697.8 608.3,699.5 610.5,701.2" fill="#000"/>
<polygon points="820,699.5 809,701.2 811.2,699.5 809,697.8" fill="#000"/>
<polygon points="829.5,699.5 840.5,697.8 838.3,699.5 840.5,701.2" fill="#000"/>
<text transform="translate(541.9 696.5) scale(0.93 1)" x="0" y="0" font-size="16" textLength="21.51" lengthAdjust="spacing" stroke="#fff" stroke-width="0.3" fill="#000">2.5</text>
<text transform="translate(697 697) scale(0.93 1)" x="0" y="0" font-size="16" textLength="31.83" lengthAdjust="spacing" stroke="#fff" stroke-width="0.3" fill="#000">29.5</text>
<text transform="translate(855 697) scale(0.93 1)" x="0" y="0" font-size="16" textLength="9.35" lengthAdjust="spacing" stroke="#fff" stroke-width="0.3" fill="#000">3</text>
<text transform="translate(620 717.5) scale(1.08 1)" x="0" y="0" font-size="16" textLength="148.8" lengthAdjust="spacing" stroke="#fff" stroke-width="0.3" fill="#000">(max. Einbauhöhe/</text>
<text transform="translate(620 739.4) scale(1.08 1)" x="0" y="0" font-size="16" textLength="183.33" lengthAdjust="spacing" font-style="italic" stroke="#fff" stroke-width="0.3" fill="#000">max. assembly height)</text>
<line x1="797.5" y1="449" x2="797.5" y2="646" stroke="#000" stroke-width="1"/>
<line x1="829.5" y1="487" x2="829.5" y2="705" stroke="#000" stroke-width="1"/>
<line x1="797" y1="455.5" x2="830" y2="455.5" stroke="#9a9a9a" stroke-width="1"/>
<polygon points="798,455.5 809,453.8 806.8,455.5 809,457.2" fill="#000"/>
<polygon points="829,455.5 818,457.2 820.2,455.5 818,453.8" fill="#000"/>
<text transform="translate(805.5 451.3) scale(0.93 1)" x="0" y="0" font-size="16" textLength="14.19" lengthAdjust="spacing" stroke="#fff" stroke-width="0.15" fill="#555">10</text>
<path d="M797.5,487.5 H826 Q829.5,487.5 829.5,491 V494.5 H820.5 V500 H797.5 Z" fill="url(#h2)" stroke="#000" stroke-width="1"/>
<path d="M797.5,512 H820 V517.5 H829.5 V641 Q829.5,645.5 825,645.5 H797.5 V632.5 H819.5 V526 H797.5 Z" fill="url(#h2)" stroke="#000" stroke-width="1"/>
<path d="M798.5,516.5 H806 V522.5 H798.5 Z" fill="#fff" stroke="#000" stroke-width="1"/>
<path d="M798.5,636.5 H806 V642 H798.5 Z" fill="#fff" stroke="#000" stroke-width="1"/>
<path d="M783.5,500.5 H819.5 V511.5 H783.5 Z" fill="#fff" stroke="#000" stroke-width="1"/>
<path d="M759,499.5 H783.5 V512.5 H759 Q756,512.5 756,509.5 V502.5 Q756,499.5 759,499.5 Z" fill="#fff" stroke="#000" stroke-width="1"/>
<line x1="759" y1="501.5" x2="779" y2="501.5" stroke="#000" stroke-width="1"/>
<line x1="759" y1="510.5" x2="779" y2="510.5" stroke="#000" stroke-width="1"/>
<line x1="759.5" y1="500" x2="759.5" y2="513" stroke="#000" stroke-width="1"/>
<line x1="778.5" y1="500" x2="778.5" y2="513" stroke="#000" stroke-width="1"/>
<path d="M829.5,495.5 H822 Q816.5,506.5 822,517.5 H829.5 Z" fill="#fff" stroke="#000" stroke-width="1"/>
<line x1="822" y1="500" x2="829" y2="497" stroke="#000" stroke-width="0.6"/>
<line x1="822" y1="513" x2="829" y2="516" stroke="#000" stroke-width="0.6"/>
<line x1="753" y1="506.5" x2="788" y2="506.5" stroke="#000" stroke-width="1"/>
<line x1="791" y1="506.5" x2="836" y2="506.5" stroke="#000" stroke-width="1"/>
<line x1="791" y1="566.5" x2="837" y2="566.5" stroke="#000" stroke-width="1"/>
<line x1="828.7" y1="503.3" x2="835.5" y2="498.3" stroke="#000" stroke-width="0.8"/>
<line x1="820.5" y1="645" x2="820.5" y2="705" stroke="#000" stroke-width="1"/>
<rect x="12.5" y="318.5" width="126" height="25" rx="9" fill="none" stroke="#000"/>
<text transform="translate(17.5 338.7) scale(0.97 1)" x="0" y="0" font-size="21" textLength="73.2" lengthAdjust="spacing" stroke="#fff" stroke-width="0.55" fill="#000">Deckel</text>
<text transform="translate(93 338.7) scale(1.1 1)" x="0" y="0" font-size="22" textLength="7.27" lengthAdjust="spacing" stroke="#fff" stroke-width="0.55" fill="#000">/</text>
<text transform="translate(105.5 338.7) scale(0.97 1)" x="0" y="0" font-size="21" textLength="28.87" lengthAdjust="spacing" font-style="italic" stroke="#fff" stroke-width="0.55" fill="#000">lid</text>
<rect x="15.5" y="760.5" width="178" height="25" rx="9" fill="none" stroke="#000"/>
<text transform="translate(20.8 780.8) scale(0.97 1)" x="0" y="0" font-size="21" textLength="102.06" lengthAdjust="spacing" stroke="#fff" stroke-width="0.55" fill="#000">Unterteil</text>
<text transform="translate(125 780.8) scale(1.1 1)" x="0" y="0" font-size="22" textLength="8.18" lengthAdjust="spacing" stroke="#fff" stroke-width="0.55" fill="#000">/</text>
<text transform="translate(137 780.8) scale(0.97 1)" x="0" y="0" font-size="21" textLength="55.15" lengthAdjust="spacing" font-style="italic" stroke="#fff" stroke-width="0.55" fill="#000">base</text>
</svg></body></html>
